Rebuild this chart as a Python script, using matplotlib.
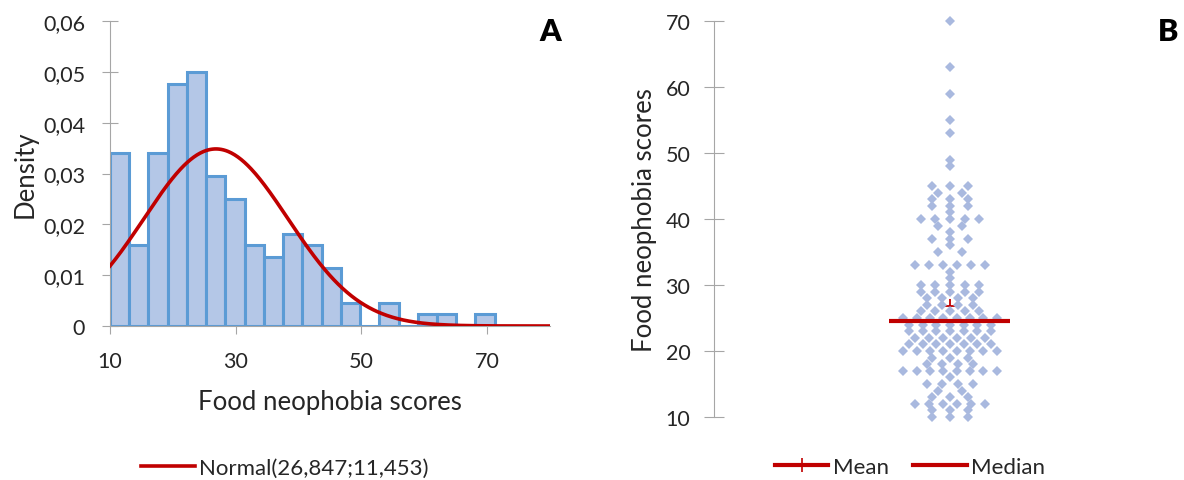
import numpy as np
import matplotlib
matplotlib.use('Agg')
import matplotlib.pyplot as plt
from matplotlib.lines import Line2D
from matplotlib.ticker import FuncFormatter

plt.rcParams['font.family'] = ['Lato', 'DejaVu Sans']

# Food neophobia scores: each distinct score and how many respondents had it
score_values = [10, 11, 12, 13, 14, 15, 16, 17, 18, 19, 20, 21, 22, 23, 24,
                25, 26, 27, 28, 29, 30, 31, 32, 33, 35, 36, 37, 38, 39, 40,
                41, 42, 43, 44, 45, 48, 49, 53, 55, 59, 63, 70]
score_counts = [3, 3, 6, 3, 2, 4, 1, 8, 4, 3, 8, 7, 6, 7, 7,
                8, 5, 4, 4, 5, 5, 1, 1, 6, 2, 1, 3, 1, 2, 5,
                1, 3, 3, 2, 3, 1, 1, 1, 1, 1, 1, 1]

# fitted normal distribution
norm_mean = 26.847
norm_sd = 11.453

# histogram classes
bin_start = 10
bin_width = 3.06
n_bins = 20

density_ticks = [0, 0.01, 0.02, 0.03, 0.04, 0.05, 0.06]
hist_xticks = [10, 30, 50, 70]
swarm_yticks = [10, 20, 30, 40, 50, 60, 70]

AXIS_GREY = '#A6A6A6'
TEXT = '#262626'
RED = '#C00000'
W, H = 1184, 481

scores = np.repeat(score_values, score_counts)
median = np.median(scores)
mean = scores.mean()


def comma(v, _):
    return '0' if v == 0 else f'{v:.2f}'.replace('.', ',')


fig = plt.figure(figsize=(W / 100, H / 100), dpi=100)

# ---- A: histogram with normal fit ----
ax_a = fig.add_axes([110 / W, 154 / H, 440 / W, 305 / H])
edges = bin_start + bin_width * np.arange(n_bins + 1)
ax_a.hist(scores, bins=edges, density=True, color='#B4C7E7',
          edgecolor='#5B9BD5', linewidth=2.2, zorder=2)
xs = np.linspace(10, 80, 400)
pdf = np.exp(-0.5 * ((xs - norm_mean) / norm_sd) ** 2) / (norm_sd * np.sqrt(2 * np.pi))
line_norm, = ax_a.plot(xs, pdf, color=RED, lw=2.6, zorder=3,
                       label=f'Normal({norm_mean:.3f};{norm_sd:.3f})'.replace('.', ','))
ax_a.set_xlim(10, 80)
ax_a.set_ylim(0, 0.06)
ax_a.set_xticks(hist_xticks)
ax_a.set_yticks(density_ticks)
ax_a.yaxis.set_major_formatter(FuncFormatter(comma))
for s in ['top', 'right']:
    ax_a.spines[s].set_visible(False)
for s in ['left', 'bottom']:
    ax_a.spines[s].set_color(AXIS_GREY)
ax_a.tick_params(axis='x', direction='out', length=6, color=AXIS_GREY,
                 pad=12, labelsize=15.5, labelcolor=TEXT)
ax_a.tick_params(axis='y', direction='inout', length=12, color=AXIS_GREY,
                 pad=12, labelsize=15.5, labelcolor=TEXT)
ax_a.set_ylabel('Density', fontsize=18.5, labelpad=4, color=TEXT)
ax_a.set_xlabel('Food neophobia scores', fontsize=18.5, labelpad=13, color=TEXT)
fig.text(550 / W, 1 - 32 / H, 'A', fontsize=22, fontweight='heavy',
         ha='center', va='center')
fig.legend(handles=[line_norm], loc='center', bbox_to_anchor=(285 / W, 12 / H),
           frameon=False, fontsize=16, handlelength=2.4, handletextpad=0.2,
           labelcolor=TEXT)

# ---- B: scattergram of individual scores ----
# x axis in pixel units, swarm centred at 0
ax_b = fig.add_axes([714 / W, 63 / H, 386 / W, 396 / H])
ax_b.set_xlim(-236, 150)
ax_b.set_ylim(10, 70)
spread = 11.7
xs_b, ys_b = [], []
for v, k in zip(score_values, score_counts):
    offs = [0.0] if k == 1 else np.linspace(-k * spread / 2, k * spread / 2, k)
    xs_b.extend(offs)
    ys_b.extend([v] * k)
ax_b.plot(0, mean, marker='+', ms=10, mew=1.3, color=RED, ls='none', zorder=2)
ax_b.plot(xs_b, ys_b, marker='D', ms=5.0, mew=0, color='#A9B9DF', ls='none',
          zorder=3, clip_on=False)
ax_b.plot([-61, 60], [median, median], color=RED, lw=3, solid_capstyle='butt',
          zorder=4)
ax_b.set_yticks(swarm_yticks)
ax_b.set_xticks([])
for s in ['top', 'right', 'bottom']:
    ax_b.spines[s].set_visible(False)
ax_b.spines['left'].set_color(AXIS_GREY)
ax_b.tick_params(axis='y', direction='inout', length=14, color=AXIS_GREY,
                 pad=10, labelsize=15.5, labelcolor=TEXT)
ax_b.set_ylabel('Food neophobia scores', fontsize=18.5, labelpad=6, color=TEXT)
fig.text(1168 / W, 1 - 32 / H, 'B', fontsize=22, fontweight='heavy',
         ha='center', va='center')
h_mean = Line2D([], [], color=RED, lw=3, marker='+', ms=10, mew=1.2)
h_median = Line2D([], [], color=RED, lw=3)
fig.legend(handles=[h_mean, h_median], labels=['Mean', 'Median'], loc='center',
           bbox_to_anchor=(910 / W, 13 / H), ncol=2, frameon=False, fontsize=16,
           handlelength=2.4, handletextpad=0.2, columnspacing=1.1,
           labelcolor=TEXT)

fig.savefig('out.png', dpi=100)
